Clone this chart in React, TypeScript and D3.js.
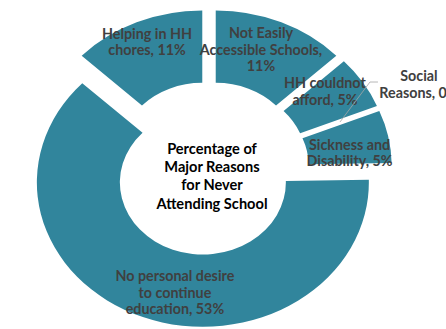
import React from "react";
import * as d3 from "d3";

const categories = [
  "Not Easily Accessible Schools",
  "HH couldnot afford",
  "Social Reasons",
  "Sickness and Disability",
  "No personal desire to continue education",
  "Helping in HH chores",
];
const values = [11, 5, 0, 5, 53, 11];
const labelLines = [
  ["Not Easily", "Accessible Schools,", "11%"],
  ["HH couldnot", "afford, 5%"],
  ["Social", "Reasons, 0%"],
  ["Sickness and", "Disability, 5%"],
  ["No personal desire", "to continue", "education, 53%"],
  ["Helping in HH", "chores, 11%"],
];
const titleLines = ["Percentage of", "Major Reasons", "for Never", "Attending School"];

// layout (styles/positions)
const W = 446;
const H = 329;
const CX = 209;
const CY = 168.6;
const KY = 0.87; // vertical squash of the plot
const R_OUT = 166;
const R_IN = 83;
const EXPLODE = 17;
const FILL = "#31859C";
const LABEL_COLOR = "#404040";
const FONT = "Lato, Carlito, Calibri, 'Noto Sans', sans-serif";
const LINE_H = 16.5;
// label adjustments relative to slice centroid (screen px)
const labelAdjust = [
  [-4, -6.5],
  [-3, -11],
  [79, -38],
  [2, 9],
  [17, 9],
  [-6, -14],
];

export default function App() {
  const pie = d3
    .pie<number>()
    .sort(null)
    .value((d) => d)
    .startAngle(0)
    .endAngle(2 * Math.PI);
  const arcs = pie(values);
  const arc = d3.arc<d3.PieArcDatum<number>>().innerRadius(R_IN).outerRadius(R_OUT);

  const offset = (a: d3.PieArcDatum<number>) => {
    const m = (a.startAngle + a.endAngle) / 2;
    return [EXPLODE * Math.sin(m), -EXPLODE * Math.cos(m)];
  };

  const toScreen = (x: number, y: number) => [CX + x, CY + KY * y];

  return (
    <svg
      width={W}
      height={H}
      style={{ position: "absolute", left: 0, top: 0, display: "block", background: "#fff" }}
      fontFamily={FONT}
    >
      <g transform={`translate(${CX},${CY}) scale(1,${KY})`}>
        {arcs.map((a, i) => {
          const [ox, oy] = offset(a);
          return (
            <path
              key={categories[i]}
              d={arc(a) || ""}
              transform={`translate(${ox},${oy})`}
              fill={FILL}
            />
          );
        })}
      </g>
      {arcs.map((a, i) => {
        const [ox, oy] = offset(a);
        const c = arc.centroid(a);
        const [px, py] = toScreen(c[0] + ox, c[1] + oy);
        const [dx, dy] = labelAdjust[i];
        const lines = labelLines[i];
        const tx = px + dx;
        const ty = py + dy - ((lines.length - 1) * LINE_H) / 2;
        const isZero = values[i] === 0;
        return (
          <g key={"l" + i}>
            {isZero && (
              <polyline
                points={`${px},${py} ${px + 30},${py - 40} ${px + 38},${py - 40}`}
                fill="none"
                stroke="#a6a6a6"
                strokeWidth={0.8}
              />
            )}
            <text
              x={tx}
              y={ty}
              textAnchor="middle"
              fontSize={14.3}
              fontWeight={700}
              fill={LABEL_COLOR}
            >
              {lines.map((l, j) => (
                <tspan key={j} x={tx} y={ty + j * LINE_H} dominantBaseline="central">
                  {l}
                </tspan>
              ))}
            </text>
          </g>
        );
      })}
      <text textAnchor="middle" fontSize={14.6} fontWeight={700} fill="#000">
        {titleLines.map((l, j) => (
          <tspan
            key={j}
            x={CX + 3}
            y={CY + 7 + (j - (titleLines.length - 1) / 2) * 18.3}
            dominantBaseline="central"
          >
            {l}
          </tspan>
        ))}
      </text>
    </svg>
  );
}
